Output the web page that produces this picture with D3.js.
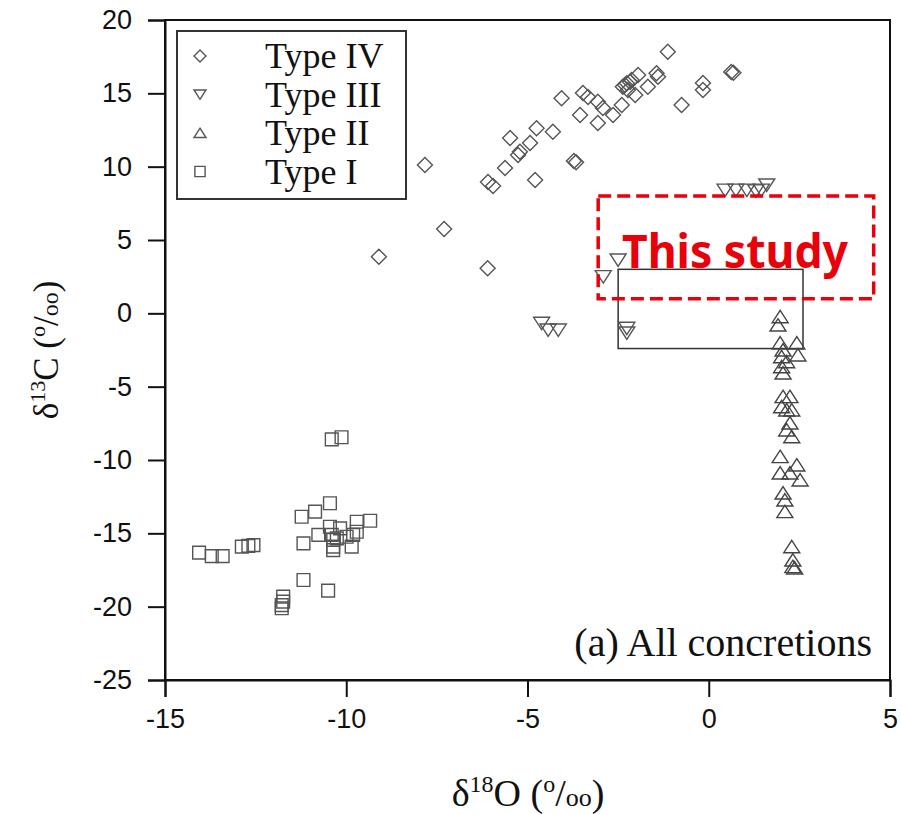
<!DOCTYPE html>
<html>
<head>
<meta charset="utf-8">
<script src="https://cdn.jsdelivr.net/npm/d3@7"></script>
<style>
  body { margin: 0; background: #fff; }
  svg { display: block; }
</style>
</head>
<body>
<div id="vis"></div>
<script>
// isotope data, [d18O, d13C]
var typeIV = [[-1.13,17.84],[0.62,16.45],[0.68,16.40],[-1.44,16.37],[-1.40,16.13],[-1.95,16.25],
  [-2.26,15.68],[-2.37,15.45],[-2.13,15.91],[-2.23,15.23],[-2.31,15.57],[-2.17,15.77],[-1.68,15.45],
  [-0.16,15.70],[-0.16,15.23],[-0.75,14.20],[-4.06,14.66],[-3.47,15.02],[-3.33,14.75],[-3.06,14.43],
  [-2.92,14.00],[-2.64,13.52],[-2.40,14.20],[-2.03,14.89],[-3.55,13.52],[-3.06,12.98],[-4.75,12.62],
  [-4.30,12.38],[-5.48,11.95],[-4.93,11.61],[-5.21,11.02],[-5.26,10.80],[-3.72,10.38],[-3.66,10.30],
  [-5.62,9.91],[-6.09,8.95],[-5.95,8.68],[-4.79,9.09],[-7.83,10.11],[-7.30,5.75],[-9.10,3.86],[-6.10,3.07]];
var typeIII = [[0.45,8.40],[0.75,8.40],[1.05,8.40],[1.30,8.35],[1.45,8.40],[1.60,8.75],
  [-2.50,3.64],[-2.91,2.50],[-4.61,-0.68],[-4.43,-1.14],[-4.15,-1.14],[-2.26,-1.02],[-2.26,-1.34]];
var typeII = [[1.97,-0.23],[1.91,-0.80],[1.97,-2.02],[2.43,-2.02],[2.05,-2.50],[2.46,-2.84],[2.01,-2.96],
  [2.15,-3.30],[2.01,-3.64],[2.05,-4.07],[2.05,-5.68],[2.24,-5.68],[2.01,-6.37],[2.15,-6.59],[2.29,-6.59],
  [2.24,-7.48],[2.15,-7.95],[2.29,-8.41],[1.97,-9.77],[2.43,-10.34],[1.97,-10.89],[2.24,-10.89],
  [2.52,-11.36],[2.05,-12.25],[2.10,-12.73],[2.10,-13.52],[2.29,-15.91],[2.32,-16.82],[2.32,-17.27],[2.37,-17.36]];
var typeI = [[-10.40,-8.59],[-10.13,-8.45],[-10.45,-12.95],[-10.86,-13.52],[-11.23,-13.87],[-9.71,-14.21],
  [-9.34,-14.14],[-10.45,-14.55],[-10.17,-14.66],[-10.77,-15.11],[-11.18,-15.68],[-10.40,-15.11],
  [-10.36,-15.45],[-10.26,-15.34],[-9.99,-15.23],[-9.81,-15.11],[-9.71,-14.89],[-10.36,-15.91],
  [-10.36,-16.14],[-9.85,-15.91],[-12.88,-15.91],[-12.70,-15.86],[-12.56,-15.80],[-14.06,-16.32],
  [-13.71,-16.55],[-13.41,-16.55],[-11.18,-18.18],[-10.50,-18.91],[-11.74,-19.32],[-11.74,-19.66],
  [-11.78,-19.89],[-11.78,-20.11]];

var legendNames = ["Type IV","Type III","Type II","Type I"];
var legendShapes = ["diamond","down","up","square"];
var xTicks = [-15,-10,-5,0,5];
var yTicks = [20,15,10,5,0,-5,-10,-15,-20,-25];
var studyBox = [[-3.05,8.0],[4.55,1.0]];   // dashed red region
var fieldBox = [[-2.5,3.0],[2.6,-2.4]];    // thin black region

var w = 901, h = 814;
var svg = d3.select("#vis").append("svg").attr("width", w).attr("height", h);

var x = d3.scaleLinear().domain([-15,5]).range([165,890]);
var y = d3.scaleLinear().domain([-25,20]).range([680,20]);

function shapePath(type, s) {
  if (type == "diamond") return "M0," + (-s) + "L" + s + ",0L0," + s + "L" + (-s) + ",0Z";
  if (type == "square") { var a = s*0.85; return "M" + (-a) + "," + (-a) + "H" + a + "V" + a + "H" + (-a) + "Z"; }
  if (type == "up") return "M0," + (-s*0.8) + "L" + s + "," + (s*0.75) + "L" + (-s) + "," + (s*0.75) + "Z";
  if (type == "down") return "M0," + (s*0.8) + "L" + s + "," + (-s*0.75) + "L" + (-s) + "," + (-s*0.75) + "Z";
}
var fmt = function(d){ return String(d); };  // plain hyphen like the original

// frame
svg.append("rect").attr("x", x(-15)).attr("y", y(20))
  .attr("width", x(5)-x(-15)).attr("height", y(-25)-y(20))
  .attr("fill","none").attr("stroke","#111").attr("stroke-width",2);

// axes
var xAxis = svg.append("g").attr("transform","translate(0," + y(-25) + ")")
  .call(d3.axisBottom(x).tickValues(xTicks).tickSize(17).tickPadding(12).tickFormat(fmt));
var yAxis = svg.append("g").attr("transform","translate(" + x(-15) + ",0)")
  .call(d3.axisLeft(y).tickValues(yTicks).tickSize(17).tickPadding(16).tickFormat(fmt));
[xAxis, yAxis].forEach(function(g){
  g.select(".domain").attr("stroke","#111").attr("stroke-width",2);
  g.selectAll(".tick line").attr("stroke","#111").attr("stroke-width",2);
  g.selectAll(".tick text").attr("fill","#111")
    .style("font-family","'Liberation Sans', Arial, sans-serif").style("font-size","27px");
});

// regions
svg.append("rect").attr("x", x(fieldBox[0][0])).attr("y", y(fieldBox[0][1]))
  .attr("width", x(fieldBox[1][0]) - x(fieldBox[0][0])).attr("height", y(fieldBox[1][1]) - y(fieldBox[0][1]))
  .attr("fill","none").attr("stroke","#333").attr("stroke-width",1.5);

// points
function drawSeries(data, type, size, col) {
  svg.append("g").selectAll("path").data(data).enter().append("path")
    .attr("d", shapePath(type, size))
    .attr("transform", function(d){ return "translate(" + x(d[0]) + "," + y(d[1]) + ")"; })
    .attr("fill","none").attr("stroke", col).attr("stroke-width",1.4);
}
drawSeries(typeI, "square", 7.5, "#555");
drawSeries(typeII, "up", 8, "#444");
drawSeries(typeIII, "down", 8, "#555");
drawSeries(typeIV, "diamond", 7.5, "#555");

svg.append("rect").attr("x", x(studyBox[0][0])).attr("y", y(studyBox[0][1]))
  .attr("width", x(studyBox[1][0]) - x(studyBox[0][0])).attr("height", y(studyBox[1][1]) - y(studyBox[0][1]))
  .attr("fill","none").attr("stroke","#e8000b").attr("stroke-width",3.5)
  .attr("stroke-dasharray","13,6");

svg.append("text").attr("x", 622).attr("y", 268)
  .attr("textLength", 226).attr("lengthAdjust","spacingAndGlyphs")
  .style("font-family","'Noto Sans', sans-serif").style("font-weight","bold").style("font-size","46px")
  .attr("fill","#e8000b").text("This study");

// legend
var lg = svg.append("g");
lg.append("rect").attr("x",177).attr("y",31).attr("width",229).attr("height",168)
  .attr("fill","#fff").attr("stroke","#333").attr("stroke-width",2);
legendNames.forEach(function(n, i){
  var ly = 56 + i*38.5;
  lg.append("path").attr("d", shapePath(legendShapes[i], 6))
    .attr("transform","translate(200," + ly + ")")
    .attr("fill","none").attr("stroke","#555").attr("stroke-width",1.4);
  lg.append("text").attr("x",265).attr("y", ly + 12)
    .style("font-family","'Liberation Serif', 'Times New Roman', serif").style("font-size","36px")
    .attr("fill","#111").text(n);
});

svg.append("text").attr("x",872).attr("y",656).attr("text-anchor","end")
  .style("font-family","'Liberation Serif', 'Times New Roman', serif").style("font-size","40px")
  .attr("fill","#111").text("(a) All concretions");

// axis titles
function isoTitle(sel, mass, el, fs) {
  sel.style("font-family","'Liberation Serif', 'Times New Roman', serif").style("font-size", fs + "px").attr("fill","#111");
  var up = Math.round(fs*0.38), sm = Math.round(fs*0.62) + "px";
  sel.append("tspan").text("\u03b4");
  sel.append("tspan").attr("dy",-up).style("font-size",sm).text(mass);
  sel.append("tspan").attr("dy",up).text(el + " (");
  sel.append("tspan").attr("dy",-up).style("font-size",sm).text("o");
  sel.append("tspan").attr("dy",up).text("/");
  sel.append("tspan").style("font-size",Math.round(fs*0.68) + "px").text("oo");
  sel.append("tspan").text(")");
}
isoTitle(svg.append("text").attr("x",528).attr("y",806).attr("text-anchor","middle"), "18", "O", 38);
isoTitle(svg.append("text").attr("transform","translate(58,350) rotate(-90)").attr("text-anchor","middle"), "13", "C", 35);
</script>
</body>
</html>
